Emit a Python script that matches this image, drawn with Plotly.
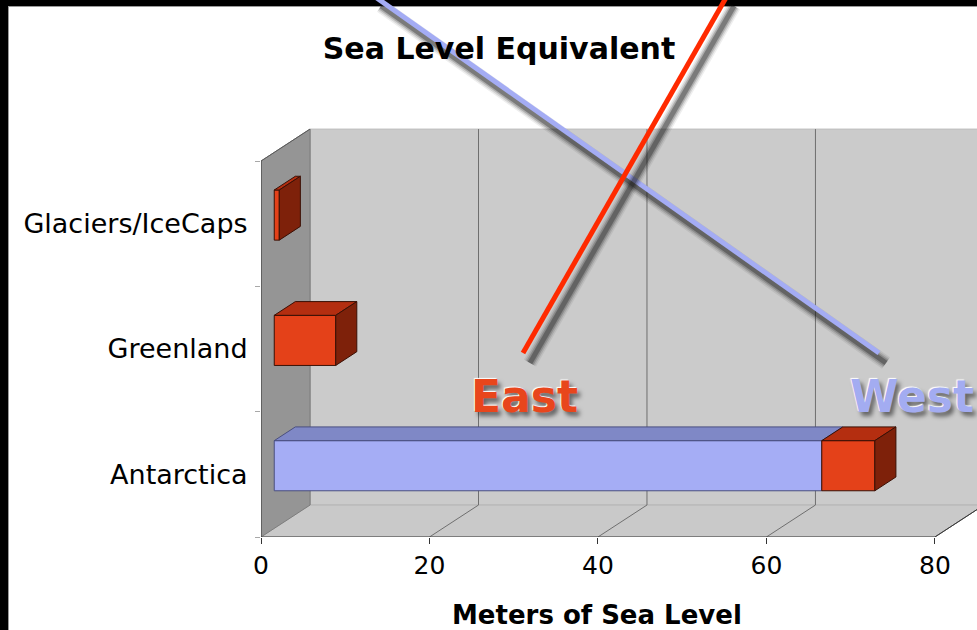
import plotly.graph_objects as go

# ---- data -------------------------------------------------------------
categories = ["Antarctica", "Greenland", "Glaciers/IceCaps"]
base_values = [65.0, 0.0, 0.0]      # lower (blue) segment, metres
top_values = [6.3, 7.3, 0.6]        # upper (red) segment, metres
x_ticks = [0, 20, 40, 60, 80]

# ---- geometry of the oblique 3-D frame (in axis units) ----------------
W, H = 977, 630
M_L, M_B = 261, 93
X_MAX = 85.0                      # visible x range
Y_MAX = 4.285                     # visible y range (category units)
N_CAT = len(categories)
X_AXIS_MAX = 80
DX, DY = 5.82, 0.255              # full depth offset of the box
BAR_FRONT, BAR_BACK = 0.27, 0.70  # bar depth as a fraction of the box depth
BAR_HALF = 0.2                    # half height of a bar, category units

PLOT_W = W - M_L
PLOT_H = H - M_B


def pt(v, y, d):
    return v + d * DX, y + d * DY


def poly(points, fill, line, width=1):
    xs = [p[0] for p in points] + [points[0][0]]
    ys = [p[1] for p in points] + [points[0][1]]
    return go.Scatter(x=xs, y=ys, mode="lines", fill="toself",
                      fillcolor=fill, line=dict(color=line, width=width),
                      hoverinfo="skip", showlegend=False)


def seg(points, color, width=1):
    return go.Scatter(x=[p[0] for p in points], y=[p[1] for p in points],
                      mode="lines", line=dict(color=color, width=width),
                      hoverinfo="skip", showlegend=False)


traces = []

# back wall
traces.append(poly([pt(0, 0, 1), pt(X_AXIS_MAX, 0, 1), pt(X_AXIS_MAX, N_CAT, 1),
                    pt(0, N_CAT, 1)], "#cbcbcb", "#bdbdbd"))
# floor
traces.append(poly([pt(0, 0, 0), pt(X_AXIS_MAX, 0, 0), pt(X_AXIS_MAX, 0, 1),
                    pt(0, 0, 1)], "#c9c9c9", "#b5b5b5"))
# side wall
traces.append(poly([pt(0, 0, 0), pt(0, 0, 1), pt(0, N_CAT, 1), pt(0, N_CAT, 0)],
                   "#959595", "#7d7d7d"))

# gridlines on floor and back wall
for v in x_ticks[1:]:
    traces.append(seg([pt(v, 0, 0), pt(v, 0, 1), pt(v, N_CAT, 1)], "#6f6f6f"))
traces.append(seg([pt(0, 0, 1), pt(0, N_CAT, 1)], "#8a8a8a"))

# front edges of the frame
traces.append(seg([pt(0, N_CAT, 0), pt(0, 0, 0), pt(X_AXIS_MAX, 0, 0),
                   pt(X_AXIS_MAX, 0, 1)], "#3a3a3a"))
traces.append(seg([pt(0, N_CAT, 0), pt(0, N_CAT, 1)], "#5a5a5a"))


def box(v0, v1, yc, front, top, side, edge, with_side=True):
    f, b = BAR_FRONT, BAR_BACK
    lo, hi = yc - BAR_HALF, yc + BAR_HALF
    out = [poly([pt(v0, lo, f), pt(v1, lo, f), pt(v1, hi, f), pt(v0, hi, f)], front, edge),
           poly([pt(v0, hi, f), pt(v1, hi, f), pt(v1, hi, b), pt(v0, hi, b)], top, edge)]
    if with_side:
        out.append(poly([pt(v1, lo, f), pt(v1, lo, b), pt(v1, hi, b), pt(v1, hi, f)], side, edge))
    return out


for i, cat in enumerate(categories):
    yc = i + 0.5
    b = base_values[i]
    t = top_values[i]
    if b > 0:
        traces += box(0, b, yc, "#a5adf5", "#7f88c6", "#6a72b0", "#4a4f80", with_side=False)
    if t > 0:
        traces += box(b, b + t, yc, "#e44119", "#b42e10", "#7e210a", "#3a1005")

fig = go.Figure(traces)


def paper_x(px):
    return (px - M_L) / PLOT_W


def paper_y(py):
    return (PLOT_H - py) / PLOT_H


def data_x(px):
    return (px - M_L) / PLOT_W * X_MAX


def data_y(py):
    return (PLOT_H - py) / PLOT_H * Y_MAX


shapes = [
    # slide frame
    dict(type="rect", xref="paper", yref="paper", x0=paper_x(0), x1=paper_x(8),
         y0=paper_y(H), y1=paper_y(0), fillcolor="black", line=dict(width=0), layer="above"),
    dict(type="rect", xref="paper", yref="paper", x0=paper_x(0), x1=paper_x(W),
         y0=paper_y(6), y1=paper_y(0), fillcolor="black", line=dict(width=0), layer="above"),
    dict(type="line", xref="paper", yref="paper", x0=paper_x(8), x1=paper_x(W),
         y0=paper_y(6.5), y1=paper_y(6.5), line=dict(color="#9a9a9a", width=1), layer="above"),
    dict(type="line", xref="paper", yref="paper", x0=paper_x(8.5), x1=paper_x(8.5),
         y0=paper_y(H), y1=paper_y(6), line=dict(color="#9a9a9a", width=1), layer="above"),
]


def pointer(p0, p1, color):
    out = []
    sx, sy = 7, 10
    for w, op in [(14, 0.07), (11, 0.12), (8, 0.2), (5, 0.32)]:
        out.append(dict(type="line", xref="x", yref="y",
                        x0=data_x(p0[0] + sx), y0=data_y(p0[1] + sy),
                        x1=data_x(p1[0] + sx), y1=data_y(p1[1] + sy),
                        line=dict(color=f"rgba(20,20,20,{op})", width=w), layer="above"))
    out.append(dict(type="line", xref="x", yref="y",
                    x0=data_x(p0[0]), y0=data_y(p0[1]), x1=data_x(p1[0]), y1=data_y(p1[1]),
                    line=dict(color=color, width=5), layer="above"))
    return out


shapes += pointer((374, -4), (879, 353), "#a4acf4")
shapes += pointer((727, -4), (523, 353), "#ff2a00")

label_font = "DejaVu Sans"
annotations = [
    dict(text="East", x=data_x(524), y=data_y(396), xref="x", yref="y", showarrow=False,
         font=dict(family=label_font, size=44, color="#e8461c", weight="bold",
                   shadow="-1px -1px 1px #ffffff, 3px 4px 4px rgba(0,0,0,0.5)")),
    dict(text="West", x=data_x(912), y=data_y(396), xref="x", yref="y", showarrow=False,
         font=dict(family=label_font, size=44, color="#a3acf1", weight="bold",
                   shadow="-1px -1px 1px #ffffff, 3px 4px 4px rgba(0,0,0,0.5)")),
    dict(text="<b>Meters of Sea Level</b>", x=paper_x(597), y=paper_y(615), xref="paper",
         yref="paper", showarrow=False, yanchor="middle",
         font=dict(family=label_font, size=26, color="black")),
]

fig.update_layout(
    width=W, height=H, autosize=False,
    margin=dict(l=M_L, r=0, t=0, b=M_B, pad=0),
    paper_bgcolor="white", plot_bgcolor="white",
    title=dict(text="<b>Sea Level Equivalent</b>", xref="container", yref="container",
               x=499 / W, y=1 - 48 / H, xanchor="center", yanchor="middle",
               font=dict(family=label_font, size=30, color="black")),
    xaxis=dict(range=[0, X_MAX], tickmode="array", tickvals=x_ticks,
               ticktext=[str(v) for v in x_ticks], ticks="outside", ticklen=6,
               tickcolor="#333333", showgrid=False, zeroline=False, showline=False,
               tickfont=dict(family=label_font, size=25, color="black"),
               automargin=False, fixedrange=True),
    yaxis=dict(range=[0, Y_MAX], tickmode="array",
               tickvals=[i + 0.5 for i in range(N_CAT)], ticktext=categories,
               ticks="outside", ticklen=5, tickcolor="rgba(0,0,0,0)",
               ticklabelstandoff=2,
               minor=dict(tickvals=list(range(N_CAT + 1)), ticks="outside", ticklen=5,
                          tickcolor="#a8a8a8", showgrid=False),
               showgrid=False, zeroline=False, showline=False,
               tickfont=dict(family=label_font, size=27, color="black"),
               automargin=False, fixedrange=True),
    shapes=shapes,
    annotations=annotations,
)

fig.write_html("out.html")
